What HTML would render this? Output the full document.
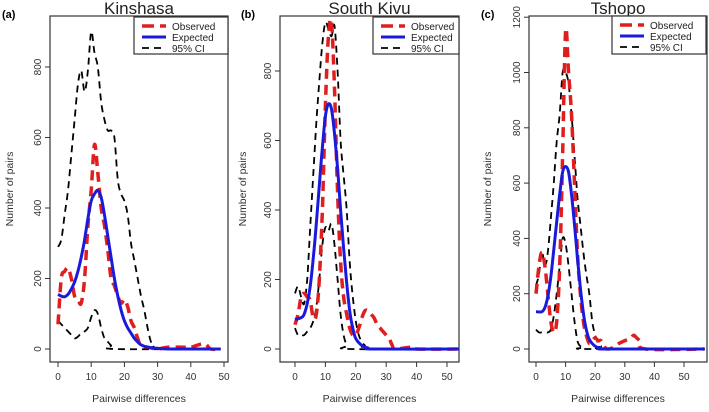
<!DOCTYPE html>
<html><head><meta charset="utf-8"><style>
body{margin:0;background:#fff}
svg{display:block;font-family:"Liberation Sans",sans-serif}
</style></head><body>
<svg id="c" width="709" height="412" viewBox="0 0 709 412"></svg>
<script>
const kinObsX=[0,1,2,3,4,5,6,7,8,9,10,11,12,13,14,15,16,17,18,19,20,21,22,23,24,25,27,30,33,38,40,44,46,49];
const kinObsY=[70,200,220,230,200,150,140,130,200,350,450,580,500,400,350,280,200,180,150,130,140,120,80,60,30,10,5,0,5,5,5,15,0,0];
const kinExpX=[0,1,2,3,4,5,6,7,8,9,10,11,12,13,14,15,16,17,18,19,20,21,22,23,24,25,27,30,35,49];
const kinExpY=[155,150,148,155,170,190,220,260,310,370,420,440,450,430,380,320,260,200,150,110,80,60,45,30,20,12,5,2,0,0];
const kinUpX=[0,1,2,3,4,5,6,7,8,9,10,11,12,13,14,15,16,17,18,19,20,21,22,23,24,25,26,27,28,29,30,49];
const kinUpY=[290,310,380,450,550,650,750,790,730,790,900,840,800,700,650,620,620,600,480,440,420,380,300,250,200,150,110,60,20,10,0,0];
const kinLoX=[0,1,2,3,4,5,6,7,8,9,10,11,12,13,14,15,16,17,49];
const kinLoY=[80,70,60,50,40,30,35,45,50,60,90,110,100,60,30,20,10,0,0];

const skObsX=[0,1,2,3,4,5,6,7,8,9,10,11,12,13,14,15,16,17,18,19,20,21,22,23,24,25,26,27,28,29,30,31,32,33,38,40,54];
const skObsY=[70,100,150,160,150,140,90,100,200,400,700,900,940,750,450,250,150,100,60,40,40,60,90,110,110,100,90,70,60,50,40,30,10,0,5,0,0];
const skExpX=[0,2,3,4,5,6,7,8,9,10,11,12,13,14,15,16,17,18,19,20,22,24,26,54];
const skExpY=[85,90,100,130,180,260,360,470,580,670,705,690,620,520,400,290,190,110,60,30,10,3,0,0];
const skUpX=[0,1,2,3,4,5,6,7,8,9,10,11,12,13,14,15,16,17,18,19,20,21,22,23,24,54];
const skUpY=[160,180,150,130,200,350,500,650,770,880,940,920,900,930,800,600,500,400,250,150,80,40,20,10,0,0];
const skLoX=[0,1,2,3,4,5,6,7,8,9,10,11,12,13,14,15,16,17,18,54];
const skLoY=[60,40,40,40,50,60,80,120,200,300,350,340,360,300,200,100,40,10,0,0];

const tsObsX=[0,1,2,3,4,5,6,7,8,9,10,11,12,13,14,15,16,17,18,19,20,21,22,23,24,26,28,30,32,33,34,35,37,57];
const tsObsY=[200,300,350,300,200,100,60,100,300,700,1150,1000,850,600,350,200,100,50,20,30,40,30,30,10,0,5,20,30,40,50,40,30,0,0];
const tsExpX=[0,2,3,4,5,6,7,8,9,10,11,12,13,14,15,16,17,18,20,22,24,57];
const tsExpY=[135,135,150,190,260,360,460,560,640,660,640,560,450,330,220,130,70,35,10,3,0,0];
const tsUpX=[0,1,2,3,4,5,6,7,8,9,10,11,12,13,14,15,16,17,18,19,20,21,22,23,57];
const tsUpY=[230,270,350,300,350,470,600,750,850,1000,1000,960,850,700,550,450,350,270,200,100,50,20,10,0,0];
const tsLoX=[0,1,2,3,4,5,6,7,8,9,10,11,12,13,14,15,16,17,57];
const tsLoY=[70,60,60,60,60,70,120,200,300,400,380,300,200,100,30,10,5,0,0];

const xTicks=[0,10,20,30,40,50];
const yTicksA=[0,200,400,600,800];
const yTicksC=[0,200,400,600,800,1000,1200];

const svg=document.getElementById('c');
const NS='http://www.w3.org/2000/svg';
function mk(t,a,p){const e=document.createElementNS(NS,t);for(const k in a)e.setAttribute(k,a[k]);(p||svg).appendChild(e);return e;}
function smooth(pts){
 let d='M'+pts[0][0].toFixed(1)+','+pts[0][1].toFixed(1);
 for(let i=0;i<pts.length-1;i++){
  const p0=pts[Math.max(0,i-1)],p1=pts[i],p2=pts[i+1],p3=pts[Math.min(pts.length-1,i+2)];
  const c1=[p1[0]+(p2[0]-p0[0])/6,p1[1]+(p2[1]-p0[1])/6],c2=[p2[0]-(p3[0]-p1[0])/6,p2[1]-(p3[1]-p1[1])/6];
  d+='C'+c1.map(v=>v.toFixed(1)).join(',')+' '+c2.map(v=>v.toFixed(1)).join(',')+' '+p2.map(v=>v.toFixed(1)).join(',');
 }
 return d;
}

const panels=[
 {id:'kinshasa',tag:'(a)',tagX:2,title:'Kinshasa',box:[50,16,228,362],x0:58,x50:224,y0:349,ypp:70.5/200,yT:yTicksA,yl:9,leg:[134,17,228,54],
  s:[[kinUpX,kinUpY,'ci-upper'],[kinLoX,kinLoY,'ci-lower'],[kinObsX,kinObsY,'observed'],[kinExpX,kinExpY,'expected']]},
 {id:'south-kivu',tag:'(b)',tagX:241,title:'South Kivu',box:[280,16,459,362],x0:295,x50:447,y0:349,ypp:69.5/200,yT:yTicksA,yl:242,leg:[373,17,459,54],
  s:[[skUpX,skUpY,'ci-upper'],[skLoX,skLoY,'ci-lower'],[skObsX,skObsY,'observed'],[skExpX,skExpY,'expected']]},
 {id:'tshopo',tag:'(c)',tagX:481,title:'Tshopo',box:[529,16,707,362],x0:536,x50:684,y0:349,ypp:55.3/200,yT:yTicksC,yl:487,leg:[612,16,706,54],
  s:[[tsUpX,tsUpY,'ci-upper'],[tsLoX,tsLoY,'ci-lower'],[tsObsX,tsObsY,'observed'],[tsExpX,tsExpY,'expected']]}
];
const style={observed:{stroke:'#e01e1e',w:3.5,d:'10,6'},expected:{stroke:'#1a1adc',w:3,d:''},'ci-upper':{stroke:'#000',w:1.8,d:'7,5'},'ci-lower':{stroke:'#000',w:1.8,d:'7,5'}};

panels.forEach(p=>{
 const g=mk('g',{});
 
 
 const X=v=>p.x0+(p.x50-p.x0)*v/50, Y=v=>p.y0-v*p.ypp;
 const [l,t,r,b]=p.box;
 const bx=mk('rect',{x:l,y:t,width:r-l,height:b-t,fill:'none',stroke:'#333','stroke-width':1.2},g);
 
 const tg=mk('text',{x:p.tagX,y:18,'font-size':11,'font-weight':'bold'},g);tg.textContent=p.tag;
 
 const ti=mk('text',{x:(l+r)/2,y:14,'font-size':17,'text-anchor':'middle',fill:'#222'},g);ti.textContent=p.title;
 
 xTicks.forEach(v=>{mk('line',{x1:X(v),x2:X(v),y1:b,y2:b+5,stroke:'#333'},g);
  const tx=mk('text',{x:X(v),y:b+18,'font-size':10,'text-anchor':'middle',fill:'#333'},g);tx.textContent=v;
  });
 p.yT.forEach(v=>{mk('line',{x1:l-5,x2:l,y1:Y(v),y2:Y(v),stroke:'#333'},g);
  const tx=mk('text',{x:l-9,y:Y(v),'font-size':10,'text-anchor':'middle',fill:'#333',transform:`rotate(-90 ${l-9} ${Y(v)})`},g);tx.textContent=v;
  });
 const xl=mk('text',{x:(l+r)/2,y:402,'font-size':10.5,'text-anchor':'middle',fill:'#333'},g);xl.textContent='Pairwise differences';
 
 const yc=(t+b)/2;
 const yl=mk('text',{x:p.yl+4,y:yc,'font-size':10.5,'text-anchor':'middle',fill:'#333',transform:`rotate(-90 ${p.yl+4} ${yc})`},g);yl.textContent='Number of pairs';
 
 p.s.forEach(([xs,ys,n])=>{const st=style[n];
  const d=smooth(xs.map((x,i)=>[X(x),Y(ys[i])]));
  const pa=mk('path',{d,fill:'none',stroke:st.stroke,'stroke-width':st.w,'stroke-dasharray':st.d,'stroke-linejoin':'round'},g);
  });
 const [a,bT,c,dB]=p.leg;
 const lg=mk('g',{},g);
 mk('rect',{x:a,y:bT,width:c-a,height:dB-bT,fill:'#fff',stroke:'#333','stroke-width':1.2},lg);
 [['Observed','observed'],['Expected','expected'],['95% CI','ci-upper']].forEach(([txt,k],i)=>{
  const yy=bT+9+i*11,st=style[k];
  mk('line',{x1:a+8,x2:a+32,y1:yy,y2:yy,stroke:st.stroke,'stroke-width':st.w,'stroke-dasharray':k==='observed'?'12,6':(k==='expected'?'':'7,5')},lg);
  const tx=mk('text',{x:a+38,y:yy+4,'font-size':10,fill:'#222'},lg);tx.textContent=txt;
  });
});
</script>
</body></html>
